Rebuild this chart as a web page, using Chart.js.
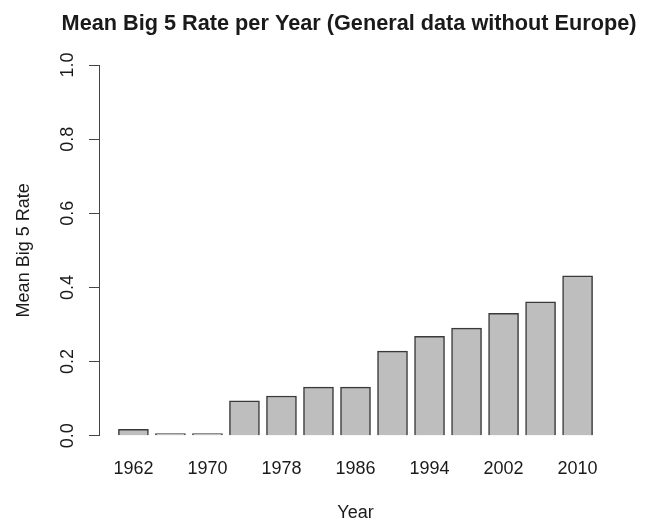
<!DOCTYPE html>
<html>
<head>
<meta charset="utf-8">
<script src="https://cdn.jsdelivr.net/npm/chart.js@4"></script>
<style>
  html, body { margin: 0; padding: 0; background: #fff; }
  #wrap { width: 653px; height: 522px; }
</style>
</head>
<body>
<div id="wrap"><canvas id="big5"></canvas></div>
<script>
// data
const years = [1962, 1966, 1970, 1974, 1978, 1982, 1986, 1990, 1994, 1998, 2002, 2006, 2010];
const meanRate = [0.017, 0, 0, 0.094, 0.107, 0.131, 0.131, 0.228, 0.268, 0.290, 0.330, 0.361, 0.431];
const yearLabels = [1962, 1970, 1978, 1986, 1994, 2002, 2010];
const rateTicks = [0, 0.2, 0.4, 0.6, 0.8, 1.0];
const chartTitle = 'Mean Big 5 Rate per Year (General data without Europe)';

const font = 'Liberation Sans, Arial, Helvetica, sans-serif';
const ink = '#1a1a1a';

// R style title and y tick labels (rotated, parallel to the axis)
const rStyleText = {
  id: 'rStyleText',
  afterDraw(chart) {
    const ctx = chart.ctx;
    const y = chart.scales.y;
    ctx.save();
    ctx.fillStyle = ink;
    ctx.font = 'bold 21.7px ' + font;
    ctx.textAlign = 'center';
    ctx.textBaseline = 'alphabetic';
    ctx.fillText(chartTitle, 349, 30);

    ctx.font = '18px ' + font;
    ctx.textBaseline = 'middle';
    rateTicks.forEach(v => {
      ctx.save();
      ctx.translate(68, y.getPixelForValue(v));
      ctx.rotate(-Math.PI / 2);
      ctx.fillText(v.toFixed(1), 0, 0);
      ctx.restore();
    });
    ctx.restore();
  }
};

const ctx = document.getElementById('big5').getContext('2d');
new Chart(ctx, {
  type: 'bar',
  data: {
    datasets: [{
      data: years.map((yr, i) => ({ x: yr, y: meanRate[i] })),
      backgroundColor: '#bebebe',
      borderColor: '#3a3a3a',
      borderWidth: 1.5,
      barThickness: 30,
      minBarLength: 2,
      clip: false
    }]
  },
  options: {
    responsive: true,
    maintainAspectRatio: false,
    animation: false,
    layout: { padding: { left: 0, right: 41, top: 65, bottom: 0 } },
    plugins: {
      legend: { display: false },
      tooltip: { enabled: false },
      title: { display: false }
    },
    scales: {
      x: {
        type: 'linear',
        offset: false,
        min: 1958.28,
        max: 2013.72,
        afterBuildTicks: scale => {
          scale.ticks = yearLabels.map(v => ({ value: v }));
        },
        afterFit: scale => { scale.height = 86.3; },
        grid: { display: false, drawTicks: false },
        border: { display: false },
        ticks: {
          color: ink,
          font: { family: font, size: 18 },
          padding: 23,
          maxRotation: 0,
          autoSkip: false,
          callback: v => String(v)
        },
        title: {
          display: true,
          text: 'Year',
          color: ink,
          font: { family: font, size: 18, lineHeight: 1 },
          padding: { top: 0, bottom: 0 }
        }
      },
      y: {
        min: 0,
        max: 1,
        afterFit: scale => { scale.width = 99; },
        ticks: { display: false, stepSize: 0.2 },
        grid: {
          display: true,
          drawOnChartArea: false,
          drawTicks: true,
          tickLength: 10,
          color: '#444',
          lineWidth: 1
        },
        border: { display: true, color: '#444', width: 1 },
        title: {
          display: true,
          text: 'Mean Big 5 Rate',
          color: ink,
          font: { family: font, size: 18, lineHeight: 1 },
          padding: { top: 15, bottom: 0 }
        }
      }
    }
  },
  plugins: [rStyleText]
});
</script>
</body>
</html>
